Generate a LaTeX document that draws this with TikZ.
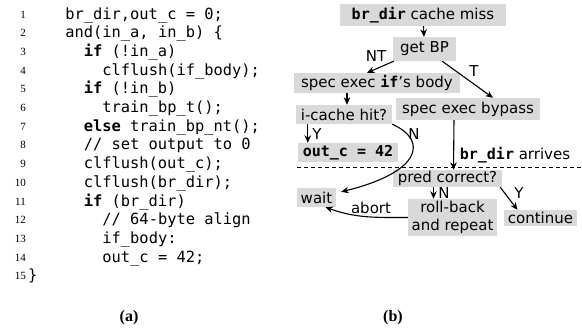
\documentclass[tikz,border=0pt]{standalone}
\usepackage{fontspec}
\setsansfont{DejaVu Sans}
\setmonofont{DejaVu Sans Mono}
\newfontfamily\serifcap{Liberation Serif}
\usetikzlibrary{arrows.meta}

\tikzset{
  blk/.style={fill=gray!30, inner sep=0pt, align=center, font=\sffamily\fontsize{15}{18}\selectfont},
  lbl/.style={inner sep=0pt, font=\sffamily\fontsize{15}{18}\selectfont},
  codeln/.style={anchor=base west, inner sep=0pt, font=\ttfamily\fontsize{15.4}{18}\selectfont},
  lno/.style={anchor=base east, inner sep=0pt, font=\serifcap\fontsize{11}{12}\selectfont},
  subcap/.style={inner sep=0pt, font=\serifcap\bfseries\fontsize{16}{18}\selectfont},
  flow/.style={-{Stealth[length=7.5pt,width=6.5pt]}, line width=1.1pt},
}

\begin{document}
\begin{tikzpicture}[x=1pt, y=-1pt]
  \useasboundingbox (0,0) rectangle (582,333);

  % (a) code listing
  \node[lno] (n1)  at (26,18)    {1};
  \node[lno] (n2)  at (26,36.7)  {2};
  \node[lno] (n3)  at (26,55.4)  {3};
  \node[lno] (n4)  at (26,74.1)  {4};
  \node[lno] (n5)  at (26,92.8)  {5};
  \node[lno] (n6)  at (26,111.5) {6};
  \node[lno] (n7)  at (26,130.2) {7};
  \node[lno] (n8)  at (26,148.9) {8};
  \node[lno] (n9)  at (26,167.6) {9};
  \node[lno] (n10) at (26,186.3) {10};
  \node[lno] (n11) at (26,205)   {11};
  \node[lno] (n12) at (26,223.7) {12};
  \node[lno] (n13) at (26,242.4) {13};
  \node[lno] (n14) at (26,261.1) {14};
  \node[lno] (n15) at (26,279.8) {15};

  \node[codeln] (c1)  at (65.1,19)    {br\_dir,out\_c = 0;};
  \node[codeln] (c2)  at (65.1,37.7)  {and(in\_a, in\_b) \{};
  \node[codeln] (c3)  at (83.6,56.4)  {\textbf{if} (!in\_a)};
  \node[codeln] (c4)  at (102.2,75.1) {clflush(if\_body);};
  \node[codeln] (c5)  at (83.6,93.8)  {\textbf{if} (!in\_b)};
  \node[codeln] (c6)  at (102.2,112.5){train\_bp\_t();};
  \node[codeln] (c7)  at (83.6,131.2) {\textbf{else} train\_bp\_nt();};
  \node[codeln] (c8)  at (83.6,149.9) {// set output to 0};
  \node[codeln] (c9)  at (83.6,168.6) {clflush(out\_c);};
  \node[codeln] (c10) at (83.6,187.3) {clflush(br\_dir);};
  \node[codeln] (c11) at (83.6,206)   {\textbf{if} (br\_dir)};
  \node[codeln] (c12) at (102.2,224.7){// 64-byte align};
  \node[codeln] (c13) at (102.2,243.4){if\_body:};
  \node[codeln] (c14) at (102.2,262.1){out\_c = 42;};
  \node[codeln] (c15) at (28,280.8)   {\}};

  % (b) flow boxes
  \node[blk, minimum width=166pt, minimum height=22pt] (miss) at (423,15) {\texttt{\bfseries br\_dir} cache miss};
  \node[blk, minimum width=63pt, minimum height=24pt] (getbp) at (424.5,49) {get BP};
  \node[blk, minimum width=166pt, minimum height=20pt] (ifbody) at (377,83) {spec exec \texttt{\bfseries if}'s body};
  \node[blk, minimum width=144pt, minimum height=22pt] (bypass) at (468,109) {spec exec bypass};
  \node[blk, minimum width=96pt, minimum height=19pt] (hit) at (344,114.5) {i-cache hit?};
  \node[blk, minimum width=100pt, minimum height=19pt] (outc) at (348,152.5) {\texttt{\bfseries out\_c = 42}};
  \node[blk, minimum width=109pt, minimum height=17pt] (pred) at (447.5,178.5) {pred correct?};
  \node[blk, minimum width=39pt, minimum height=19pt] (wait) at (316.5,197.5) {wait};
  \node[blk, minimum width=89pt, minimum height=37pt] (roll) at (452.5,217.5) {roll-back\\and repeat};
  \node[blk, minimum width=73pt, minimum height=16pt] (cont) at (540.5,218) {continue};

  % dashed boundary: before / after br_dir arrives
  \coordinate (dl) at (297,167);
  \coordinate (dr) at (582,167);
  \draw[dashed, dash pattern=on 4pt off 3pt, line width=0.9pt] (dl) -- (dr);
  \node[lbl] (arrive) at (515,155) {\texttt{\bfseries br\_dir} arrives};

  % connectors
  \draw[flow] (miss) -- (getbp);
  \draw[flow] ([xshift=1pt]getbp.south west) -- ([xshift=-10pt]ifbody.north);
  \draw[flow] ([xshift=-14pt]getbp.south east) -- ([xshift=25pt]bypass.north);
  \draw[flow] ([xshift=3pt]hit.north |- ifbody.south) -- ([xshift=3pt]hit.north);
  \draw[flow] ([xshift=12pt]hit.south west) -- ([xshift=10pt]outc.north west);
  \draw[flow] (hit.south east) .. controls (428,140) and (422,172) .. ([xshift=5pt,yshift=-4pt]wait.north east);
  \draw[flow] ([xshift=-14pt]bypass.south) -- ([xshift=6pt]pred.north);
  \draw[flow] ([xshift=-14pt]pred.south) -- ([xshift=-19pt]roll.north);
  \draw[flow] ([xshift=-2pt]pred.south east) -- ([xshift=-23pt]cont.north);
  \draw[flow] (roll.west) to[out=180, in=-20] ([xshift=9pt]wait.south);

  % edge labels
  \node[lbl] (lnt) at (376,56) {NT};
  \node[lbl] (lt) at (474,71) {T};
  \node[lbl] (ly1) at (317,134) {Y};
  \node[lbl] (ln1) at (414,134) {N};
  \node[lbl] (ln2) at (444,193) {N};
  \node[lbl] (ly2) at (519,193) {Y};
  \node[lbl] (labort) at (371,208) {abort};

  % captions
  \node[subcap] (capa) at (129,318) {(a)};
  \node[subcap] (capb) at (393,318) {(b)};
\end{tikzpicture}
\end{document}
